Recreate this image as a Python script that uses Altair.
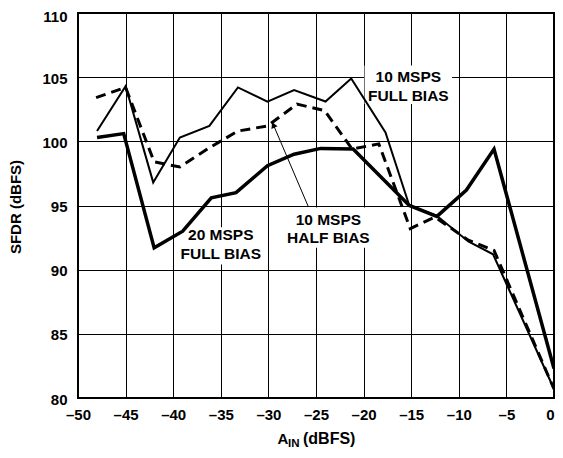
import altair as alt
import pandas as pd

# ---- data ----
x_full10 = [-48.0, -45.0, -42.1, -39.3, -36.2, -33.2, -30.1, -27.3, -24.0, -21.3, -17.7, -15.2, -12.3, -9.0, -6.4, 0.0]
y_full10 = [100.8, 104.3, 96.8, 100.3, 101.2, 104.2, 103.1, 104.0, 103.1, 104.9, 100.7, 95.0, 94.2, 92.2, 91.2, 80.7]

x_half10 = [-48.1, -45.0, -42.0, -39.3, -36.2, -33.2, -30.1, -27.0, -24.1, -21.2, -18.4, -15.1, -12.5, -9.0, -6.3, 0.0]
y_half10 = [103.4, 104.2, 98.4, 98.0, 99.5, 100.8, 101.2, 102.9, 102.4, 99.4, 99.8, 93.2, 94.1, 92.3, 91.5, 80.7]

x_full20 = [-48.0, -45.2, -42.0, -39.0, -36.0, -33.4, -30.1, -27.3, -24.5, -21.1, -15.2, -12.3, -9.2, -6.3, 0.0]
y_full20 = [100.3, 100.6, 91.7, 93.0, 95.6, 96.0, 98.1, 99.0, 99.45, 99.4, 95.0, 94.15, 96.2, 99.4, 82.3]

x_ticks = [-50, -45, -40, -35, -30, -25, -20, -15, -10, -5, 0]
y_ticks = [80, 85, 90, 95, 100, 105, 110]

label_text = ["10 MSPS", "FULL BIAS", "20 MSPS", "FULL BIAS", "10 MSPS", "HALF BIAS"]
label_x = [-15.3, -15.3, -35.0, -35.0, -23.7, -23.7]
label_y = [105.0, 103.5, 92.7, 91.25, 93.9, 92.45]

box_x = [-19.9, -39.4, -28.2]
box_x2 = [-10.7, -30.4, -19.1]
box_y = [102.9, 90.4, 91.7]
box_y2 = [105.9, 93.3, 94.85]

arrow_tail = (-25.8, 94.9)
arrow_tip = (-29.6, 101.5)

FONT = "Liberation Sans"

df_full10 = pd.DataFrame({"x": x_full10, "y": y_full10})
df_half10 = pd.DataFrame({"x": x_half10, "y": y_half10})
df_full20 = pd.DataFrame({"x": x_full20, "y": y_full20})
df_labels = pd.DataFrame({"t": label_text, "x": label_x, "y": label_y})
df_boxes = pd.DataFrame({"x": box_x, "x2": box_x2, "y": box_y, "y2": box_y2})
df_arrow = pd.DataFrame({"x": [arrow_tail[0]], "y": [arrow_tail[1]],
                         "x2": [arrow_tip[0]], "y2": [arrow_tip[1]]})
df_head = pd.DataFrame({"x": [arrow_tip[0] + 0.12], "y": [arrow_tip[1] - 0.22]})

xscale = alt.Scale(domain=[-50, 0], nice=False, zero=False)
yscale = alt.Scale(domain=[80, 110], nice=False, zero=False)

x_enc = alt.X("x:Q", scale=xscale, axis=alt.Axis(
    values=x_ticks, title=None, labelFlush=False, labelOverlap=False, labelPadding=9,
    labelAlign={"condition": {"test": "datum.value == 0", "value": "right"}, "value": "center"},
    labelExpr="datum.value < 0 ? '\u2013' + format(-datum.value, 'd') : format(datum.value, 'd')"))
y_enc = alt.Y("y:Q", scale=yscale, axis=alt.Axis(
    values=y_ticks, title=None, labelFlush=False, labelOverlap=False, labelPadding=11,
    labelOffset={"condition": {"test": "datum.value == 110", "value": 3}, "value": 1}))

boxes = alt.Chart(df_boxes).mark_rect(fill="white").encode(
    x=x_enc, x2="x2:Q", y=y_enc, y2="y2:Q")

line_full10 = alt.Chart(df_full10).mark_line(color="black", strokeWidth=2).encode(x=x_enc, y=y_enc)
line_half10 = alt.Chart(df_half10).mark_line(color="black", strokeWidth=3, strokeDash=[10, 6]).encode(x=x_enc, y=y_enc)
line_full20 = alt.Chart(df_full20).mark_line(color="black", strokeWidth=3.5).encode(x=x_enc, y=y_enc)

arrow = alt.Chart(df_arrow).mark_rule(color="black", strokeWidth=1).encode(
    x=x_enc, y=y_enc, x2="x2:Q", y2="y2:Q")
head = alt.Chart(df_head).mark_point(shape="triangle-up", filled=True, color="black",
                                     size=45, angle=337, opacity=1).encode(x=x_enc, y=y_enc)

labels = alt.Chart(df_labels).mark_text(font=FONT, fontSize=15.5, fontWeight="bold", color="black",
                                        align="center", baseline="middle").encode(
    x=x_enc, y=y_enc, text="t:N")

one = pd.DataFrame({"t": [""]})
ytitle = alt.Chart(one).mark_text(text="SFDR (dBFS)", font=FONT, fontSize=15, fontWeight="bold",
                                  color="black", angle=270, align="center", baseline="middle").encode(
    x=alt.value(-62.5), y=alt.value(194))
xt_a = alt.Chart(one).mark_text(text="A", font=FONT, fontSize=15, fontWeight="bold", color="black",
                                align="left", baseline="alphabetic").encode(x=alt.value(199.5), y=alt.value(431))
xt_in = alt.Chart(one).mark_text(text="IN", font=FONT, fontSize=11.5, fontWeight="bold", color="black",
                                 align="left", baseline="alphabetic").encode(x=alt.value(210), y=alt.value(434))
xt_rest = alt.Chart(one).mark_text(text="(dBFS)", font=FONT, fontSize=16, fontWeight="bold", color="black",
                                   align="left", baseline="alphabetic").encode(x=alt.value(225), y=alt.value(431))

chart = alt.layer(
    boxes, line_full20, line_half10, line_full10, arrow, head, labels, ytitle, xt_a, xt_in, xt_rest
).properties(
    width=476, height=385,
    autosize=alt.AutoSizeParams(type="none"),
    padding={"left": 70, "top": 5, "right": 1, "bottom": 50},
).configure_axis(
    grid=True, gridColor="black", gridWidth=1, gridOpacity=1,
    domain=False, ticks=False,
    labelFont=FONT, labelFontSize=15, labelFontWeight="bold", labelColor="black",
).configure_view(
    stroke="black", strokeWidth=2
)

chart.save("out.html", embed_options={"renderer": "svg", "actions": False})
